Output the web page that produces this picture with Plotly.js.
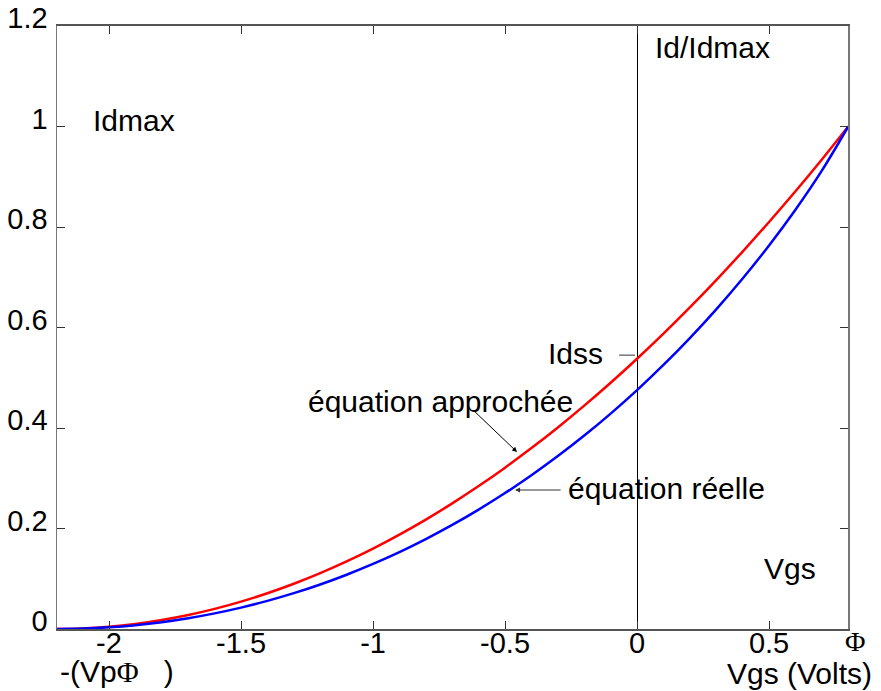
<!DOCTYPE html>
<html>
<head>
<meta charset="utf-8">
<script src="https://cdn.plot.ly/plotly-3.0.1.min.js"></script>
<style>html,body{margin:0;padding:0;background:#fff;}#chart{width:881px;height:691px;}</style>
</head>
<body>
<div id="chart"></div>
<script>
// Vgs (Volts)
var vgs = [-2.2, -2.1, -2.0, -1.9, -1.8, -1.7, -1.6, -1.5, -1.4, -1.3, -1.2, -1.1, -1.0, -0.9, -0.8, -0.7, -0.6, -0.5, -0.4, -0.3, -0.2, -0.1, 0.0, 0.1, 0.2, 0.3, 0.4, 0.5, 0.6, 0.7, 0.8];
// Id/Idmax, équation approchée (red)
var idApprox = [0, 0.00111, 0.00444, 0.01, 0.01778, 0.02778, 0.04, 0.05444, 0.07111, 0.09, 0.11111, 0.13444, 0.16, 0.18778, 0.21778, 0.25, 0.28444, 0.32111, 0.36, 0.40111, 0.44444, 0.49, 0.53778, 0.58778, 0.64, 0.69444, 0.75111, 0.81, 0.87111, 0.93444, 1];
// Id/Idmax, équation réelle (blue)
var idReal = [0, 0.00084, 0.00338, 0.00763, 0.01364, 0.02145, 0.03108, 0.04258, 0.05598, 0.07132, 0.08866, 0.10804, 0.12952, 0.15314, 0.17898, 0.20711, 0.23759, 0.27051, 0.30596, 0.34405, 0.3849, 0.42863, 0.47541, 0.52542, 0.57889, 0.63608, 0.69737, 0.76325, 0.83443, 0.91217, 1];
var xTicks = [-2, -1.5, -1, -0.5, 0, 0.5];
var xTickText = ['-2', '-1.5', '-1', '-0.5', '0', '0.5'];
var yTicks = [0, 0.2, 0.4, 0.6, 0.8, 1, 1.2];
var yTickText = ['0', '0.2', '0.4', '0.6', '0.8', '1', '1.2'];

var FONT = 'Liberation Sans, Arial, sans-serif';
var FS = 29;
var AFS = 30;

var traces = [
  {x: vgs, y: idApprox, type: 'scatter', mode: 'lines', name: 'équation approchée',
   line: {color: '#ff0000', width: 2.5, shape: 'spline'}},
  {x: vgs, y: idReal, type: 'scatter', mode: 'lines', name: 'équation réelle',
   line: {color: '#0000ff', width: 2.5, shape: 'spline'}}
];

var txt = function (t, x, y, anchor) {
  return {text: t, x: x, y: y, xref: 'x', yref: 'y', showarrow: false,
          xanchor: anchor || 'center', yanchor: 'middle',
          font: {family: FONT, size: AFS, color: '#000'}};
};

var layout = {
  width: 881, height: 691,
  margin: {l: 57, r: 33, t: 26, b: 62, pad: 0},
  paper_bgcolor: '#fff', plot_bgcolor: '#fff',
  showlegend: false,
  font: {family: FONT, size: FS, color: '#000'},
  xaxis: {
    range: [-2.197, 0.799], tickvals: xTicks, ticktext: xTickText,
    ticks: 'inside', ticklen: 8, tickcolor: '#333', tickwidth: 1,
    showline: true, linecolor: '#555', linewidth: 2, mirror: 'ticks',
    showgrid: false, zeroline: true, zerolinecolor: '#000', zerolinewidth: 1,
    tickfont: {family: FONT, size: FS, color: '#000'}, ticklabelstandoff: -13
  },
  yaxis: {
    range: [0, 1.2], tickvals: yTicks, ticktext: yTickText,
    ticks: 'inside', ticklen: 8, tickcolor: '#333', tickwidth: 1,
    showline: true, linecolor: '#777', linewidth: 1.5, mirror: 'ticks',
    showgrid: false, zeroline: false,
    tickfont: {family: FONT, size: FS, color: '#000'}, ticklabelstandoff: 2, ticklabelshift: -8
  },
  shapes: [
    {type: 'line', xref: 'x', yref: 'y', x0: -0.068, x1: -0.008, y0: 0.545, y1: 0.545,
     line: {color: '#333', width: 1}}
  ],
  annotations: [
    txt('Idmax', -1.907, 1.011),
    txt('Id/Idmax', 0.284, 1.157),
    txt('Idss', -0.121, 0.549, 'right'),
    txt('équation approchée', -0.746, 0.452),
    txt('équation réelle', 0.112, 0.279),
    txt('Vgs', 0.580, 0.121),
    {text: '', x: -0.4545, y: 0.3522, xref: 'x', yref: 'y', showarrow: true,
     ax: -44, ay: -42, arrowhead: 2, arrowsize: 1, arrowwidth: 1, arrowcolor: '#000', standoff: 0},
    {text: '', x: -0.462, y: 0.2766, xref: 'x', yref: 'y', showarrow: true,
     ax: 47, ay: 0, arrowhead: 2, arrowsize: 1, arrowwidth: 1, arrowcolor: '#333', standoff: 0},
    {text: '-(Vp<span style="font-family:Liberation Serif, Times New Roman, serif">Φ</span>\u00a0\u00a0\u00a0)',
     x: 0.0013, y: -0.0697, xref: 'paper', yref: 'paper', showarrow: false,
     xanchor: 'left', yanchor: 'middle', font: {family: FONT, size: AFS, color: '#000'}},
    {text: 'Φ', x: 1.0088, y: -0.021, xref: 'paper', yref: 'paper', showarrow: false,
     xanchor: 'center', yanchor: 'middle',
     font: {family: 'Liberation Serif, Times New Roman, serif', size: 28, color: '#000'}},
    {text: 'Vgs (Volts)', x: 0.9393, y: -0.074, xref: 'paper', yref: 'paper', showarrow: false,
     xanchor: 'center', yanchor: 'middle', font: {family: FONT, size: AFS, color: '#000'}}
  ]
};

Plotly.newPlot('chart', traces, layout, {displayModeBar: false, staticPlot: true});
</script>
</body>
</html>
